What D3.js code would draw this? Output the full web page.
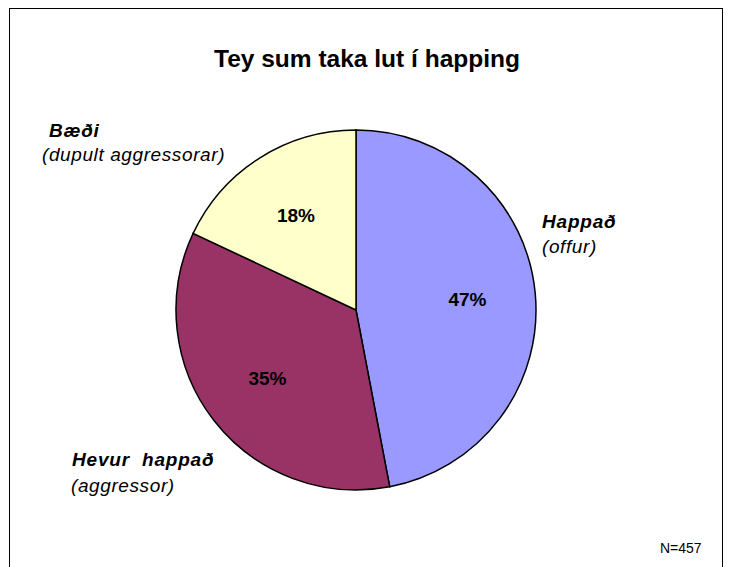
<!DOCTYPE html>
<html>
<head>
<meta charset="utf-8">
<script src="https://cdn.jsdelivr.net/npm/d3@7"></script>
<style>
  body { margin: 0; background: #fff; }
  text { font-family: "Liberation Sans", Arial, sans-serif; }
</style>
</head>
<body>
<div id="chart"></div>
<script>
// data
const categories = ['Happað', 'Hevur  happað', 'Bæði'];
const subLabels = ['(offur)', '(aggressor)', '(dupult aggressorar)'];
const shares = [47, 35, 18];
const colors = ['#9999ff', '#993366', '#ffffcc'];
const title = 'Tey sum taka lut í happing';
const note = 'N=457';

const width = 731, height = 567;
const svg = d3.select('#chart').append('svg')
  .attr('width', width).attr('height', height);

// frame
svg.append('rect')
  .attr('x', 9.5).attr('y', 8.5)
  .attr('width', 713).attr('height', 580)
  .attr('fill', 'none').attr('stroke', '#000').attr('stroke-width', 1);

svg.append('text')
  .attr('x', 367).attr('y', 67)
  .attr('text-anchor', 'middle')
  .attr('font-size', 24).attr('font-weight', 'bold')
  .attr('textLength', 306).attr('lengthAdjust', 'spacingAndGlyphs')
  .text(title);

const cx = 356, cy = 310, r = 180;
const pie = d3.pie().sort(null).value(d => d);
const arcs = pie(shares);
const arc = d3.arc().innerRadius(0).outerRadius(r);
const labelArc = d3.arc().innerRadius(112).outerRadius(112);

const g = svg.append('g').attr('transform', 'translate(' + [cx, cy] + ')');
g.selectAll('path')
  .data(arcs).enter().append('path')
  .attr('d', arc)
  .attr('fill', (d, i) => colors[i])
  .attr('stroke', '#000')
  .attr('stroke-width', 1.5);

g.selectAll('text.pct')
  .data(arcs).enter().append('text')
  .attr('class', 'pct')
  .attr('transform', d => 'translate(' + labelArc.centroid(d) + ')')
  .attr('text-anchor', 'middle')
  .attr('dy', '0.35em')
  .attr('font-size', 19).attr('font-weight', 'bold')
  .text(d => d.data + '%');

// category labels, placed outside the pie as in the original
const labelPos = [[542, 228], [72, 466], [49, 137]];
const subPos = [[542, 253], [71, 492], [42, 161]];

categories.forEach((c, i) => {
  svg.append('text')
    .attr('x', labelPos[i][0]).attr('y', labelPos[i][1])
    .attr('font-size', 19).attr('font-weight', 'bold').attr('font-style', 'italic')
    .attr('letter-spacing', 0.8)
    .style('white-space', 'pre')
    .text(c);
  svg.append('text')
    .attr('x', subPos[i][0]).attr('y', subPos[i][1])
    .attr('font-size', 19).attr('font-style', 'italic')
    .attr('letter-spacing', 0.6)
    .text(subLabels[i]);
});

svg.append('text')
  .attr('x', 660).attr('y', 553)
  .attr('font-size', 14)
  .text(note);
</script>
</body>
</html>
